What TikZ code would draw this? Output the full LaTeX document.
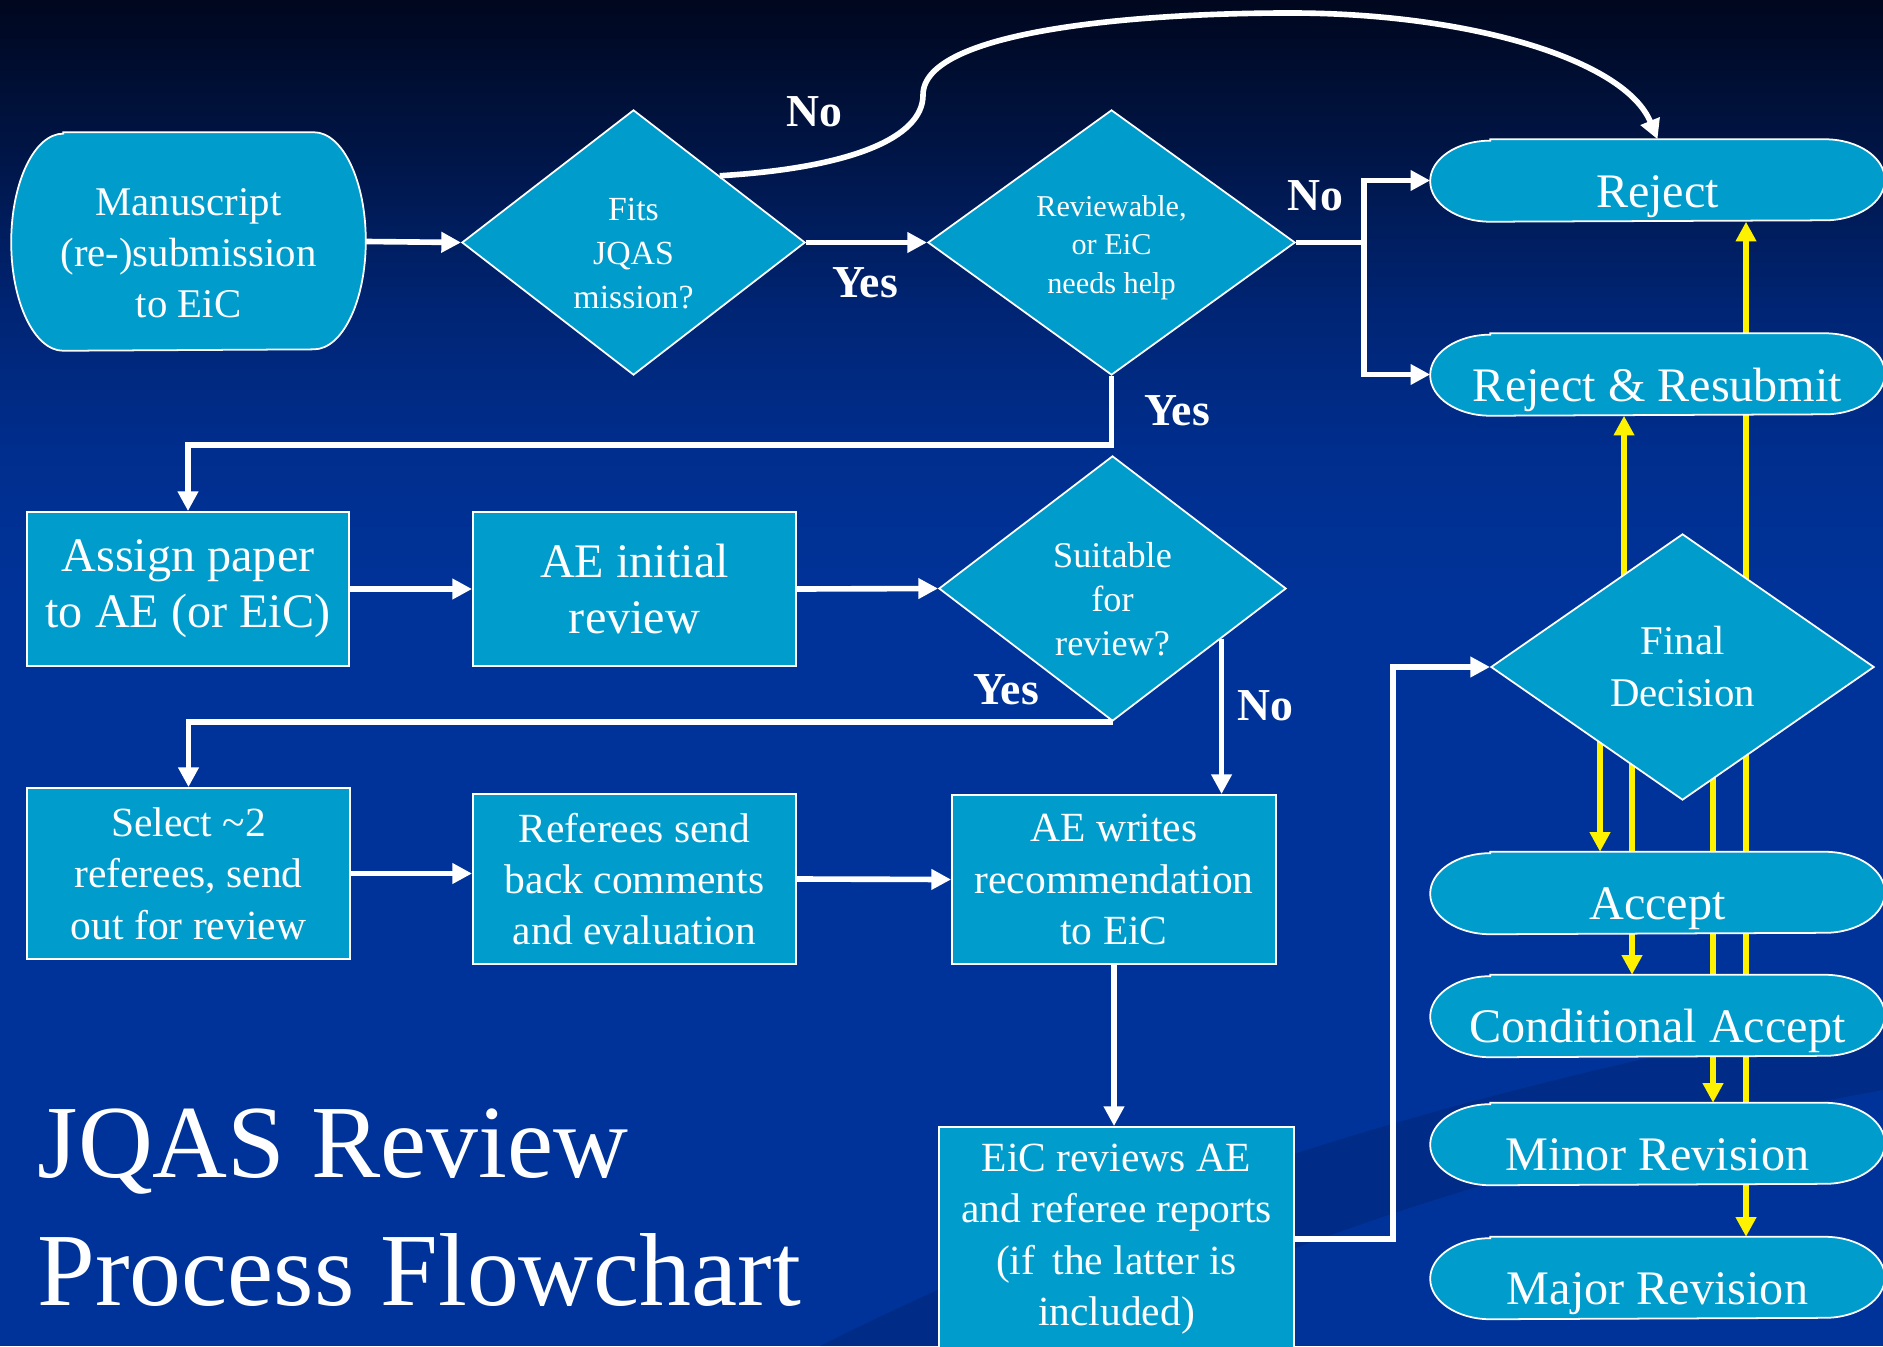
\documentclass[tikz,border=0pt]{standalone}
\usepackage{fontspec}
\setmainfont{Liberation Serif}
\usepackage{xcolor}
\usetikzlibrary{shapes.geometric,arrows.meta,calc}

\definecolor{boxblue}{RGB}{0,156,204}
\definecolor{bgblue}{RGB}{0,51,153}
\definecolor{bgfour}{RGB}{0,46,142}
\definecolor{bgthree}{RGB}{0,36,114}
\definecolor{bgtwo}{RGB}{0,21,70}
\definecolor{bgtop}{RGB}{0,7,30}
\definecolor{swoosh}{RGB}{0,38,118}

\newcommand{\termfont}{\fontsize{13.7}{16}\selectfont}
\newcommand{\manfont}{\fontsize{11.6}{14.5}\selectfont}
\newcommand{\fitsfont}{\fontsize{9.6}{12.5}\selectfont}
\newcommand{\revfont}{\fontsize{8.6}{11}\selectfont}
\newcommand{\suitfont}{\fontsize{10.3}{12.5}\selectfont}
\newcommand{\fdfont}{\fontsize{11.6}{14.8}\selectfont}
\newcommand{\bigboxfont}{\fontsize{13.7}{16}\selectfont}
\newcommand{\boxfont}{\fontsize{11.8}{14.6}\selectfont}
\newcommand{\lblfont}{\fontsize{13}{15}\selectfont\bfseries}
\newcommand{\titlefont}{\fontsize{29.5}{36.4}\selectfont}

\pgfdeclarelayer{bg}
\pgfdeclarelayer{lines}
\pgfdeclarelayer{shapes}
\pgfsetlayers{bg,lines,shapes,main}

\begin{document}
\begin{tikzpicture}[x=0.01cm, y=-0.01cm,
    boxnode/.style={rectangle, draw=white, line width=0.5pt, fill=boxblue, text=white, align=center, inner sep=0pt},
    dianode/.style={diamond, draw=white, line width=0.5pt, fill=boxblue, inner sep=0pt},
    diatext/.style={text=white, align=center, inner sep=0pt},
    termnode/.style={rectangle, text=white, inner sep=0pt, minimum width=4.53cm, minimum height=0.81cm, text height=0.53cm, text depth=0pt, font=\termfont},
    termshape/.style={fill=boxblue, draw=white, line width=0.5pt},
    lbl/.style={text=white, font=\lblfont, inner sep=0pt},
    warrow/.style={draw=white, line width=1.6pt, -{Triangle[length=5.6pt, width=5.6pt]}},
    wline/.style={draw=white, line width=1.6pt},
    yarrow/.style={draw=yellow, line width=1.6pt, -{Triangle[length=5.6pt, width=5.6pt]}}]

    \useasboundingbox (0,0) rectangle (1883,1346);
    \clip (0,0) rectangle (1883,1346);

    % Background
    \begin{pgfonlayer}{bg}
        \fill[bgblue] (0,0) rectangle (1883,1346);
        \foreach \ya/\yb/\ca/\cb in {0/152/bgtop/bgtwo, 150/302/bgtwo/bgthree, 300/452/bgthree/bgfour, 450/602/bgfour/bgblue} {
            \shade[top color=\ca, bottom color=\cb] (0,\ya) rectangle (1883,\yb);
        }
        \fill[swoosh, opacity=0.5] (820,1346) .. controls (1150,1180) and (1500,1080) .. (1883,1010)
            -- (1883,1090) .. controls (1550,1150) and (1250,1250) .. (1080,1346) -- cycle;
    \end{pgfonlayer}

    % Start and decisions
    \node[termnode, minimum width=3.53cm, minimum height=2.17cm, text height=, text depth=,
        label={[diatext, name=manustxt, font=\manfont, yshift=-0.12cm]center:{Manuscript\\(re-)submission\\to EiC}}] (manus) at (188.5,241.5) {};
    \node[dianode, minimum width=3.43cm, minimum height=2.65cm,
        label={[diatext, name=fitstxt, font=\fitsfont, yshift=-0.11cm]center:{Fits\\JQAS\\mission?}}] (fits) at (633.5,242.5) {};
    \node[dianode, minimum width=3.67cm, minimum height=2.65cm,
        label={[diatext, name=revwtxt, font=\revfont, yshift=-0.05cm]center:{Reviewable,\\or EiC\\needs help}}] (revw) at (1111.5,242.5) {};
    \node[dianode, minimum width=3.47cm, minimum height=2.65cm,
        label={[diatext, name=suittxt, font=\suitfont, yshift=-0.11cm]center:{Suitable\\for\\review?}}] (suit) at (1112.5,588.5) {};
    \node[dianode, minimum width=3.83cm, minimum height=2.66cm,
        label={[diatext, name=fdtxt, font=\fdfont]center:{Final\\Decision}}] (fd) at (1682.5,667) {};

    % Process boxes
    \node[boxnode, minimum width=3.22cm, minimum height=1.54cm, font=\bigboxfont] (assign) at (188,589) {Assign paper\\to AE (or EiC)};
    \node[boxnode, minimum width=3.23cm, minimum height=1.54cm, font=\bigboxfont] (aeinit) at (634.5,589) {AE initial\\review};
    \node[boxnode, minimum width=3.23cm, minimum height=1.71cm, font=\boxfont] (select) at (188.5,873.5) {Select \textasciitilde2\\referees, send\\out for review};
    \node[boxnode, minimum width=3.23cm, minimum height=1.70cm, font=\boxfont] (referees) at (634.5,879) {Referees send\\back comments\\and evaluation};
    \node[boxnode, minimum width=3.24cm, minimum height=1.69cm, font=\boxfont] (aewrites) at (1114,879.5) {AE writes\\recommendation\\to EiC};
    \node[boxnode, minimum width=3.55cm, minimum height=2.24cm, font=\boxfont] (eic) at (1116.5,1239) {EiC reviews AE\\and referee reports\\(if\, the latter is\\included)};

    % Outcomes
    \foreach \name/\y/\txt in {reject/180.5/Reject, resub/374.5/Reject \& Resubmit, accept/893/Accept,
        condacc/1016/Conditional Accept, minor/1144/Minor Revision, major/1278/Major Revision} {
        \node[termnode] (\name) at (1657.5,\y) {\txt};
    }

    \begin{pgfonlayer}{shapes}
        \foreach \n/\rx/\ry in {manus/0.52/1.085, reject/0.6/0.405, resub/0.6/0.405, accept/0.6/0.405,
            condacc/0.6/0.405, minor/0.6/0.405, major/0.6/0.405} {
            \path[termshape] ([xshift=\rx cm]\n.north west) -- ([xshift=-\rx cm]\n.north east)
                arc[start angle=90, end angle=-90, x radius=\rx cm, y radius=\ry cm]
                -- ([xshift=\rx cm]\n.south west)
                arc[start angle=270, end angle=90, x radius=\rx cm, y radius=\ry cm] -- cycle;
        }
    \end{pgfonlayer}

    % Final decision outcomes
    \begin{pgfonlayer}{lines}
        \foreach \x/\dest in {1600/accept, 1632/condacc, 1713/minor, 1746/major} {
            \draw[yarrow] (\x,0 |- fd.center) -- (\x,0 |- \dest.north);
        }
        \foreach \x/\dest in {1624/resub, 1746/reject} {
            \draw[yarrow] (\x,0 |- fd.center) -- (\x,0 |- \dest.south);
        }
    \end{pgfonlayer}

    % Connectors
    \draw[warrow] (manus.east) -- (fits.west);
    \draw[warrow] (fits.east) -- (revw.west);
    \draw[warrow] (fits.north east) .. controls (850,168) and (923,138) .. (923,95)
        .. controls (923,30) and (1140,13) .. (1290,13)
        .. controls (1470,13) and (1625,60) .. (reject.north);
    \draw[wline] (revw.east) -- ++(68,0) coordinate (nofork);
    \draw[warrow] (nofork) |- (reject.west);
    \draw[warrow] (nofork) |- (resub.west);
    \draw[warrow] (revw.south) -- ++(0,69) -| (assign.north);
    \draw[warrow] (assign.east) -- (aeinit.west);
    \draw[warrow] (aeinit.east) -- (suit.west);
    \draw[warrow] (suit.south) -| (select.north);
    \coordinate (suitno) at ($(suit.south east)!0.25!(suit.east)$);
    \draw[warrow] (suitno) -- (suitno |- aewrites.north);
    \draw[warrow] (select.east) -- (select.east -| referees.west);
    \draw[warrow] (referees.east) -- (aewrites.west);
    \draw[warrow] (aewrites.south) -- (aewrites.south |- eic.north);
    \draw[warrow] (eic.east) -- ++(98,0) |- (fd.west);

    % Labels
    \node[lbl] (nofits) at (814,112) {No};
    \node[lbl] (yesfits) at (865,283) {Yes};
    \node[lbl] (norevw) at (1315,196) {No};
    \node[lbl] (yesrevw) at (1177,411) {Yes};
    \node[lbl] (yessuit) at (1006,690) {Yes};
    \node[lbl] (nosuit) at (1265,706) {No};

    % Title
    \node[text=white, font=\titlefont, anchor=base west, inner sep=0pt] (titleone) at (37,1177) {JQAS Review};
    \node[text=white, font=\titlefont, anchor=base west, inner sep=0pt] (titletwo) at (37,1305) {Process Flowchart};
\end{tikzpicture}
\end{document}
